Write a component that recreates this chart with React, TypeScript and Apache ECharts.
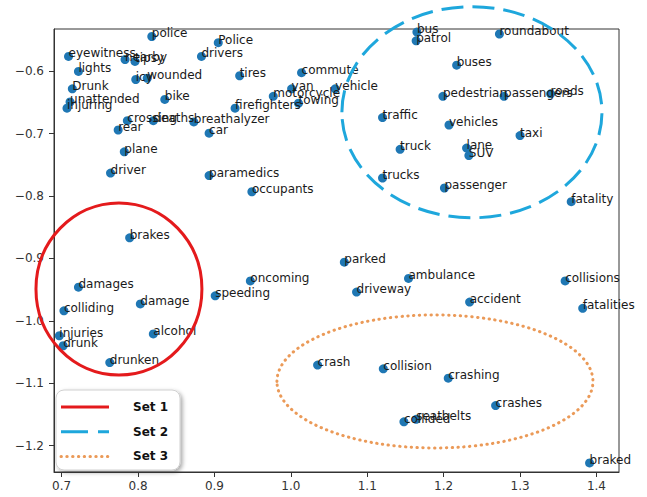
import React, { useEffect, useRef } from "react";
import * as echarts from "echarts";

const words = [
  "police", "Police", "eyewitness", "nearby", "tipsy", "lights", "icy", "wounded", "tires", "drivers",
  "Drunk", "unattended", "injuring", "bike", "crossing", "rear", "deaths", "breathalyzer", "car", "plane",
  "driver", "paramedics", "firefighters", "motorcycle", "van", "towing", "commute", "vehicle", "occupants",
  "bus", "patrol", "roundabout", "buses", "pedestrian", "passengers", "roads", "traffic", "vehicles", "taxi",
  "truck", "lane", "SUV", "trucks", "passenger", "fatality",
  "brakes", "damages", "colliding", "damage", "injuries", "drunk", "alcohol", "drunken",
  "speeding", "oncoming", "parked", "driveway", "ambulance", "accident", "collisions", "fatalities",
  "crash", "collision", "crashing", "crashes", "collided", "seatbelts", "braked",
];

const xValues = [
  0.818, 0.905, 0.709, 0.783, 0.796, 0.722, 0.797, 0.812, 0.933, 0.883,
  0.714, 0.711, 0.707, 0.835, 0.786, 0.774, 0.820, 0.873, 0.893, 0.782,
  0.764, 0.893, 0.927, 0.977, 1.001, 1.010, 1.014, 1.058, 0.949,
  1.165, 1.164, 1.273, 1.217, 1.199, 1.279, 1.340, 1.120, 1.207, 1.300,
  1.143, 1.230, 1.233, 1.120, 1.201, 1.367,
  0.789, 0.722, 0.703, 0.803, 0.697, 0.702, 0.820, 0.763,
  0.901, 0.947, 1.070, 1.086, 1.154, 1.234, 1.359, 1.382,
  1.035, 1.121, 1.206, 1.268, 1.148, 1.164, 1.391,
];

const yValues = [
  -0.544, -0.554, -0.576, -0.581, -0.584, -0.600, -0.613, -0.611, -0.607, -0.576,
  -0.628, -0.649, -0.659, -0.645, -0.679, -0.694, -0.679, -0.681, -0.699, -0.729,
  -0.763, -0.767, -0.659, -0.640, -0.628, -0.651, -0.602, -0.628, -0.793,
  -0.537, -0.551, -0.540, -0.590, -0.640, -0.640, -0.636, -0.674, -0.686, -0.703,
  -0.725, -0.723, -0.735, -0.771, -0.787, -0.809,
  -0.867, -0.946, -0.984, -0.973, -1.024, -1.040, -1.021, -1.067,
  -0.960, -0.936, -0.906, -0.954, -0.932, -0.970, -0.936, -0.980,
  -1.071, -1.077, -1.092, -1.136, -1.162, -1.158, -1.228,
];

// ellipse annotations in data units: [centerX, centerY, radiusX, radiusY]
const setNames = ["Set 1", "Set 2", "Set 3"];
const setEllipses = [
  [0.775, -0.949, 0.1086, 0.138],
  [1.237, -0.6655, 0.1702, 0.1693],
  [1.1886, -1.0973, 0.2068, 0.1067],
];

const xTicks = [0.7, 0.8, 0.9, 1.0, 1.1, 1.2, 1.3, 1.4];
const yTicks = [-1.2, -1.1, -1.0, -0.9, -0.8, -0.7, -0.6];

const setStyles = [
  { stroke: "#e41a1c", lineWidth: 3, lineDash: null as number[] | null, cap: "butt" },
  { stroke: "#1ea7dc", lineWidth: 3, lineDash: [22, 9], cap: "butt" },
  { stroke: "#eb9a58", lineWidth: 3, lineDash: [0.4, 5.4], cap: "round" },
];

export default function App() {
  const ref = useRef<HTMLDivElement>(null);
  useEffect(() => {
    if (!ref.current) return;
    const chart = echarts.init(ref.current, undefined, { renderer: "svg" });
    const fmt = (v: number) => v.toFixed(1).replace("-", "\u2212");

    const ellipseSeries = setNames.map((name, i) => ({
      type: "custom",
      name,
      coordinateSystem: "cartesian2d",
      clip: false,
      z: 5,
      silent: true,
      data: [setEllipses[i]],
      renderItem: (params: any, api: any) => {
        const c = api.coord([api.value(0), api.value(1)]);
        const s = api.size([api.value(2), api.value(3)]);
        const st = setStyles[i];
        const style: any = { fill: "none", stroke: st.stroke, lineWidth: st.lineWidth, lineCap: st.cap };
        if (st.lineDash) style.lineDash = st.lineDash;
        return {
          type: "ellipse",
          shape: { cx: c[0], cy: c[1], rx: s[0], ry: s[1] },
          style,
        };
      },
    }));

    const legendX = 56;
    const legendY = 390;
    const legendChildren: any[] = [
      {
        type: "rect",
        shape: { x: 0, y: 0, width: 124, height: 80, r: 8 },
        style: {
          fill: "#fff",
          stroke: "#d0d0d0",
          lineWidth: 1,
          shadowBlur: 4,
          shadowOffsetX: 2,
          shadowOffsetY: 2,
          shadowColor: "rgba(0,0,0,0.35)",
        },
      },
    ];
    setNames.forEach((name, i) => {
      const y = 17 + i * 24.7;
      const st = setStyles[i];
      const ls: any = { stroke: st.stroke, lineWidth: st.lineWidth, lineCap: st.cap };
      if (st.lineDash) ls.lineDash = i === 1 ? [27, 10] : st.lineDash;
      legendChildren.push({
        type: "line",
        shape: { x1: 5, y1: y, x2: 53, y2: y },
        style: ls,
      });
      legendChildren.push({
        type: "text",
        x: 77,
        y,
        style: {
          text: name,
          fill: "#111",
          font: "bold 12px 'DejaVu Sans'",
          textVerticalAlign: "middle",
          verticalAlign: "middle",
        },
      });
    });

    chart.setOption({
      animation: false,
      grid: {
        left: 54,
        right: 28,
        top: 29,
        bottom: 25,
        show: true,
        borderColor: "#333",
        borderWidth: 1,
        backgroundColor: "transparent",
      },
      xAxis: {
        type: "value",
        min: 0.69,
        max: 1.4295,
        splitLine: { show: false },
        axisLine: { show: true, onZero: false, lineStyle: { color: "#333", width: 1 } },
        axisTick: { show: true, length: 5, customValues: xTicks, lineStyle: { color: "#333" } },
        axisLabel: {
          customValues: xTicks,
          formatter: fmt,
          margin: 8,
          color: "#333",
          fontFamily: "DejaVu Sans",
          fontSize: 12,
        },
      },
      yAxis: {
        type: "value",
        min: -1.2425,
        max: -0.532,
        splitLine: { show: false },
        axisLine: { show: true, onZero: false, lineStyle: { color: "#333", width: 1 } },
        axisTick: { show: true, length: 5, customValues: yTicks, lineStyle: { color: "#333" } },
        axisLabel: {
          customValues: yTicks,
          formatter: fmt,
          margin: 10,
          color: "#333",
          fontFamily: "DejaVu Sans",
          fontSize: 12,
        },
      },
      series: [
        {
          type: "scatter",
          symbolSize: 9,
          z: 2,
          itemStyle: { color: "#1f77b4", opacity: 1 },
          label: {
            show: true,
            formatter: "{b}",
            position: [4.5, 7.5],
            align: "left",
            verticalAlign: "bottom",
            color: "#1a1a1a",
            fontFamily: "DejaVu Sans",
            fontSize: 12,
          },
          labelLayout: { hideOverlap: false },
          data: words.map((w, i) => ({ name: w, value: [xValues[i], yValues[i]] })),
        },
        ...ellipseSeries,
      ],
      graphic: [
        {
          type: "group",
          x: legendX,
          y: legendY,
          z: 100,
          children: legendChildren,
        },
      ],
    });
    return () => chart.dispose();
  }, []);
  return (
    <div
      ref={ref}
      style={{ position: "fixed", left: 0, top: 0, width: 647, height: 497, background: "#fff" }}
    />
  );
}
